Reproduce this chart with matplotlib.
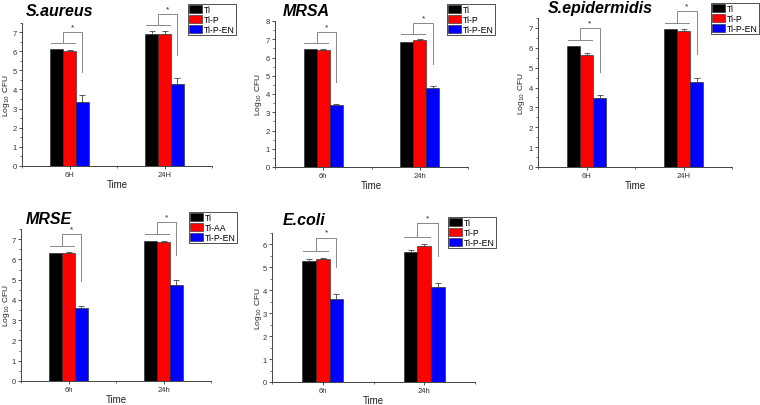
import numpy as np
import matplotlib
matplotlib.use("Agg")
import matplotlib.pyplot as plt
from matplotlib.ticker import MultipleLocator

plt.rcParams['font.family'] = ['Liberation Sans', 'DejaVu Sans']

# datos (log10 CFU)
titles = ["S.aureus", "MRSA", "S.epidermidis", "MRSE", "E.coli"]
time_labels = [["6H", "24H"], ["6h", "24h"], ["6H", "24H"], ["6h", "24h"], ["6h", "24h"]]
series_names = [["Ti", "Ti-P", "Ti-P-EN"], ["Ti", "Ti-P", "Ti-P-EN"], ["Ti", "Ti-P", "Ti-P-EN"],
                ["Ti", "Ti-AA", "Ti-P-EN"], ["Ti", "Ti-P", "Ti-P-EN"]]

ti_vals = [[6.10, 6.90], [6.47, 6.85], [6.07, 6.93], [6.30, 6.90], [5.30, 5.68]]
tip_vals = [[6.02, 6.90], [6.42, 6.97], [5.65, 6.87], [6.30, 6.88], [5.37, 5.95]]
en_vals = [[3.35, 4.30], [3.37, 4.33], [3.47, 4.27], [3.60, 4.73], [3.63, 4.15]]

ti_err = [[0.02, 0.15], [0.02, 0.02], [0.02, 0.03], [0.03, 0.02], [0.07, 0.08]]
tip_err = [[0.03, 0.15], [0.05, 0.03], [0.10, 0.07], [0.07, 0.05], [0.03, 0.08]]
en_err = [[0.35, 0.30], [0.10, 0.12], [0.13, 0.23], [0.12, 0.27], [0.20, 0.15]]

y_max = [7.5, 8, 7.5, 7.5, 6.5]

# posiciones en píxeles de cada panel (izq, der, arriba, abajo)
boxes = [(22, 212, 23.5, 167), (275, 468, 22, 168), (538, 732, 19, 168),
         (21, 211, 230, 382), (272, 475, 234, 383)]
legend_pos = [(188, 5), (447, 5), (711, 4), (189, 213), (448, 218)]
title_pos = [(26, 12), (283, 11), (548, 8), (26, 220), (283, 221)]
ylabel_x = [12, 264, 527, 12, 264]

W, H = 760, 406
fig = plt.figure(figsize=(W / 100, H / 100), dpi=100)

colors = ["#000000", "#ff0000", "#0000ff"]
bw = 0.135
x = np.arange(2)

for i in range(5):
    l, r, t, b = boxes[i]
    ax = fig.add_axes([l / W, 1 - b / H, (r - l) / W, (b - t) / H])
    vals = [ti_vals[i], tip_vals[i], en_vals[i]]
    errs = [ti_err[i], tip_err[i], en_err[i]]
    for k in range(3):
        e = np.array(errs[k])
        ax.bar(x + (k - 1) * bw, vals[k], bw, color=colors[k], edgecolor="#222222",
               linewidth=0.4, label=series_names[i][k],
               yerr=[np.zeros(2), e], error_kw=dict(ecolor="#444444", elinewidth=0.6,
                                                    capsize=2.5, capthick=0.6))

    # corchetes de significancia
    for j in range(2):
        top2 = max(ti_vals[i][j] + ti_err[i][j], tip_vals[i][j] + tip_err[i][j])
        low = top2 + 0.3
        high = low + 0.6
        drop = en_vals[i][j] + en_err[i][j] + 1.2
        xc = x[j] - bw / 2
        xb = x[j] + bw
        ax.plot([x[j] - 1.45 * bw, x[j] + 0.4 * bw], [low, low], color="#888888", lw=0.7,
                clip_on=False)
        ax.plot([xc, xc, xb, xb], [low, high, high, drop], color="#888888", lw=0.7,
                clip_on=False)
        ax.text((xc + xb) / 2, high + 0.08, "*", ha="center", va="bottom", fontsize=6,
                color="#222222", clip_on=False)

    ax.set_xlim(-0.5, 1.5)
    ax.set_ylim(0, y_max[i])
    ax.set_xticks(x)
    ax.set_xticklabels(time_labels[i])
    ax.xaxis.set_minor_locator(MultipleLocator(0.5))
    ax.yaxis.set_major_locator(MultipleLocator(1))
    ax.yaxis.set_minor_locator(MultipleLocator(0.5))
    ax.tick_params(labelsize=5.5, colors="#333333", width=0.6, length=2.5, pad=1.0)
    ax.tick_params(which="minor", width=0.5, length=1.5, colors="#333333")
    for s in ["top", "right"]:
        ax.spines[s].set_visible(False)
    for s in ["left", "bottom"]:
        ax.spines[s].set_color("#444444")
        ax.spines[s].set_linewidth(0.7)
    ax.set_xlabel("Time", fontsize=7, color="#222222", labelpad=1)
    ax.set_ylabel(r"Log$_{10}$ CFU", fontsize=6, color="#222222")
    ax.yaxis.set_label_coords(ylabel_x[i] / W, 1 - (t + b) / 2 / H, transform=fig.transFigure)

    lx, ly = legend_pos[i]
    leg = ax.legend(loc="upper left", bbox_to_anchor=(lx / W, 1 - ly / H),
                    bbox_transform=fig.transFigure, fontsize=6.3, frameon=True,
                    fancybox=False, borderpad=0.1, labelspacing=0.1, handlelength=1.5,
                    handleheight=1.05, handletextpad=0.25, borderaxespad=0)
    leg.get_frame().set_edgecolor("#000000")
    leg.get_frame().set_linewidth(0.6)

    tx, ty = title_pos[i]
    fig.text(tx / W, 1 - ty / H, titles[i], fontsize=11.5, fontweight="bold",
             fontstyle="italic", ha="left", va="center")

fig.savefig("out.png", dpi=100)
